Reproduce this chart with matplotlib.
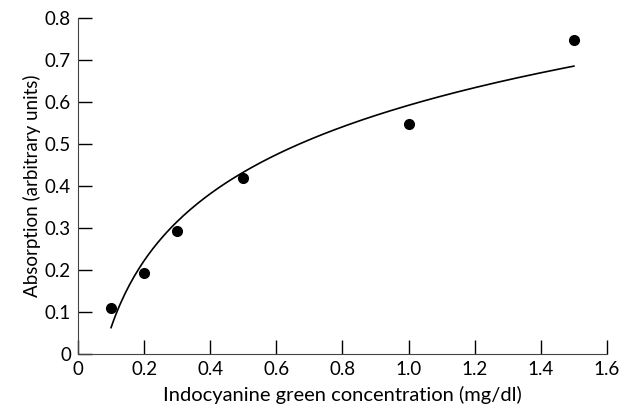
import numpy as np
import matplotlib.pyplot as plt

conc = [0.1, 0.2, 0.3, 0.5, 1.0, 1.5]
absorption = [0.11, 0.193, 0.292, 0.42, 0.548, 0.748]

# logarithmic fit through the measured points
a, b = np.polyfit(np.log(conc), absorption, 1)
xf = np.linspace(0.1, 1.5, 200)
yf = a * np.log(xf) + b

plt.rcParams['font.family'] = ['Lato', 'DejaVu Sans']

fig = plt.figure(figsize=(6.29, 4.12), dpi=100)
ax = fig.add_axes([0.124, 0.141, 0.841, 0.815])

ax.plot(xf, yf, color='black', lw=1.2)
ax.plot(conc, absorption, 'o', color='black', ms=7)

ax.set_xlim(0, 1.6)
ax.set_ylim(0, 0.8)
ax.set_xticks(np.arange(0, 1.61, 0.2))
ax.set_yticks(np.arange(0, 0.81, 0.1))
ax.set_xticklabels(['0', '0.2', '0.4', '0.6', '0.8', '1.0', '1.2', '1.4', '1.6'])
ax.set_yticklabels(['0', '0.1', '0.2', '0.3', '0.4', '0.5', '0.6', '0.7', '0.8'])
ax.tick_params(direction='in', length=10, width=1, labelsize=13.5, pad=5)
for s in ['left', 'bottom']:
    ax.spines[s].set_color('#444444')
ax.spines['top'].set_visible(False)
ax.spines['right'].set_visible(False)
ax.set_xlabel('Indocyanine green concentration (mg/dl)', fontsize=14.5, labelpad=6)
ax.set_ylabel('Absorption (arbitrary units)', fontsize=13.5, labelpad=3)

fig.savefig('out.png', dpi=100)
